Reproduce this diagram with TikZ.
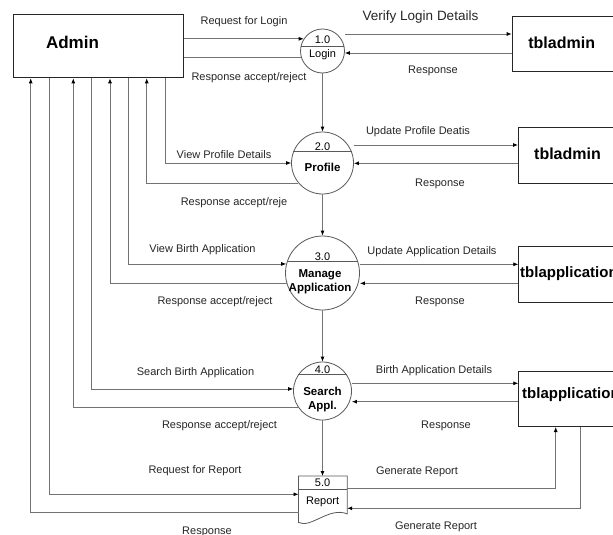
\documentclass[tikz,border=0pt]{standalone}
\usepackage{fontspec}
\setmainfont{Liberation Sans}
\usetikzlibrary{arrows.meta,calc}

\begin{document}
\begin{tikzpicture}[x=1pt,y=-1pt,
  flow/.style={draw=black!55, line width=0.8pt},
  arr/.style={-{Latex[length=5pt,width=4pt,color=black]}},
  proc/.style={circle, draw=black!65, line width=0.8pt, inner sep=0pt},
  store/.style={rectangle, draw=black!85, line width=1pt, inner sep=0pt, anchor=north west},
  lbl/.style={font=\fontsize{11}{13}\selectfont, text=black!85, inner sep=0pt},
  big/.style={font=\fontsize{13.5}{15}\selectfont, text=black!85, inner sep=0pt},
  ptxt/.style={font=\fontsize{11}{13}\selectfont, inner sep=0pt},
  pbold/.style={font=\fontsize{11.5}{13}\selectfont\bfseries, inner sep=0pt},
  ent/.style={font=\fontsize{16}{18}\selectfont\bfseries, inner sep=0pt},
]
\useasboundingbox (0,0) rectangle (613,535);
\clip (0,0) rectangle (613,535);
\fill[white] (0,0) rectangle (613,535);

% external entity and data stores (stores are open on the right)
\node[store, minimum width=170pt, minimum height=63.3pt] (admin) at (12.7,14) {};
\node[ent, font=\fontsize{17}{19}\selectfont\bfseries] (admintxt) at (72.5,42) {Admin};

\node[store, minimum width=140pt, minimum height=55.3pt] (tbl1) at (511.7,15.7) {};
\node[ent] (tbl1txt) at (561.7,43) {tbladmin};
\node[store, minimum width=140pt, minimum height=56pt] (tbl2) at (518,126.7) {};
\node[ent] (tbl2txt) at (567.5,154) {tbladmin};
\node[store, minimum width=140pt, minimum height=55.7pt] (tbl3) at (518.3,246) {};
\node[ent, font=\fontsize{15}{17}\selectfont\bfseries, anchor=west] (tbl3txt) at (520,273.3) {tblapplication};
\node[store, minimum width=140pt, minimum height=55.3pt] (tbl4) at (518.3,370.7) {};
\node[ent, font=\fontsize{15}{17}\selectfont\bfseries, anchor=west] (tbl4txt) at (522,395) {tblapplication};

% processes
\node[proc, minimum size=44pt] (login) at (322.5,51) {};
\draw[black!65, line width=0.8pt] (login.169) -- (login.11);
\node[ptxt] (n1) at (322.5,40) {1.0};
\node[ptxt] (t1) at (322.5,55) {Login};

\node[proc, minimum size=62pt] (profile) at (322.5,163) {};
\draw[black!65, line width=0.8pt] (profile.159) -- (profile.21);
\node[ptxt] (n2) at (322.5,146.5) {2.0};
\node[pbold] (t2) at (322.5,167) {Profile};

\node[proc, minimum size=74pt] (manage) at (322.5,273) {};
\draw[black!65, line width=0.8pt] (manage.162) -- (manage.18);
\node[ptxt] (n3) at (322.5,257) {3.0};
\node[pbold, align=center, font=\fontsize{11.5}{14}\selectfont\bfseries] (t3) at (320,282) {Manage\\Application};

\node[proc, minimum size=58pt] (search) at (322.5,391) {};
\draw[black!65, line width=0.8pt] (search.146) -- (search.34);
\node[ptxt] (n4) at (322.5,369.5) {4.0};
\node[pbold, align=center, font=\fontsize{11.5}{14}\selectfont\bfseries] (t4) at (322.5,399.5) {Search\\Appl.};

\node[minimum width=48.3pt, minimum height=46pt, inner sep=0pt, anchor=north west] (report) at (298.5,476) {};
\draw[black!65, line width=0.8pt] (report.north west) -- (report.north east)
  -- ([yshift=8.5pt]report.south east) .. controls +(-18,-7.5) and +(12,6.5) .. (report.south west) -- cycle;
\draw[black!65, line width=0.8pt] ([yshift=-13.3pt]report.north west) -- ([yshift=-13.3pt]report.north east);
\node[ptxt] (n5) at (322.6,483) {5.0};
\node[ptxt] (t5) at (322.6,502) {Report};

% drop points along the bottom of Admin
\coordinate (a1) at ($(admin.south west)+(18,0)$);
\coordinate (a2) at ($(admin.south west)+(36.3,0)$);
\coordinate (a3) at ($(admin.south west)+(60.6,0)$);
\coordinate (a4) at ($(admin.south west)+(79,0)$);
\coordinate (a5) at ($(admin.south west)+(97.3,0)$);
\coordinate (a6) at ($(admin.south west)+(115.6,0)$);
\coordinate (a7) at ($(admin.south west)+(134,0)$);
\coordinate (a8) at ($(admin.south west)+(152.3,0)$);

% ports on the data stores
\coordinate (s1a) at ([yshift=-18.3pt]tbl1.north west);
\coordinate (s1b) at ([yshift=-37.3pt]tbl1.north west);
\coordinate (s2a) at ([yshift=-18.3pt]tbl2.north west);
\coordinate (s2b) at ([yshift=-36.6pt]tbl2.north west);
\coordinate (s3a) at ([yshift=-18.3pt]tbl3.north west);
\coordinate (s3b) at ([yshift=-37.3pt]tbl3.north west);
\coordinate (s4a) at ([yshift=-12.6pt]tbl4.north west);
\coordinate (s4b) at ([yshift=-31pt]tbl4.north west);
\coordinate (s4in) at ([xshift=37.4pt]tbl4.south west);
\coordinate (s4out) at ([xshift=61.7pt]tbl4.south west);

% ports on the report
\coordinate (r1) at ([yshift=-18.3pt]report.north west);
\coordinate (r2) at ([yshift=-36.3pt]report.north west);
\coordinate (r3) at ([yshift=-12.3pt]report.north east);
\coordinate (r4) at ([yshift=-32.3pt]report.north east);

% 1.0 Login
\draw[flow,arr] (admin.east |- login.147) -- (login.147);
\draw[flow] (login.197) -- (admin.east |- login.197);
\draw[flow,arr] (login.east |- s1a) -- (s1a);
\draw[flow,arr] (s1b) -- (login.east |- s1b);
\draw[flow,arr] (login.south) -- (profile.north);

% 2.0 Profile
\draw[flow,arr] (a8) |- (profile.west);
\draw[flow,arr] (profile.220) -| (a7);
\draw[flow,arr] (profile.east |- s2a) -- (s2a);
\draw[flow,arr] (s2b) -- (profile.east |- s2b);
\draw[flow,arr] (profile.south) -- (manage.north);

% 3.0 Manage Application
\draw[flow,arr] (a6) |- (manage.166);
\draw[flow,arr] (manage.196) -| (a5);
\draw[flow,arr] (manage.east |- s3a) -- (s3a);
\draw[flow,arr] (s3b) -- (manage.east |- s3b);
\draw[flow,arr] (manage.south) -- (search.north);

% 4.0 Search Appl.
\draw[flow,arr] (a4) |- (search.176);
\draw[flow,arr] (search.215) -| (a3);
\draw[flow,arr] (search.east |- s4a) -- (s4a);
\draw[flow,arr] (s4b) -- (search.east |- s4b);
\draw[flow,arr] (search.south) -- (search.south |- report.north);

% 5.0 Report
\draw[flow,arr] (a2) |- (r1);
\draw[flow,arr] (r2) -| (a1);
\draw[flow,arr] (r3) -| (s4in);
\draw[flow,arr] (s4out) |- (r4);

% flow labels
\node[lbl] (l1) at (244,22) {Request for Login};
\node[lbl] (l2) at (249,78) {Response accept/reject};
\node[big] (l3) at (420.5,17) {Verify Login Details};
\node[lbl] (l4) at (433,71) {Response};
\node[lbl] (l5) at (418,132) {Update Profile Deatis};
\node[lbl] (l6) at (440,184) {Response};
\node[lbl] (l7) at (224,155) {View Profile Details};
\node[lbl] (l8) at (234,203) {Response accept/reje};
\node[lbl] (l9) at (202.5,250) {View Birth Application};
\node[lbl] (l10) at (215,302) {Response accept/reject};
\node[lbl] (l11) at (432,252) {Update Application Details};
\node[lbl] (l12) at (440,302) {Response};
\node[lbl] (l13) at (195.5,373) {Search Birth Application};
\node[lbl] (l14) at (219.5,426) {Response accept/reject};
\node[lbl] (l15) at (434,371) {Birth Application Details};
\node[lbl] (l16) at (446,426) {Response};
\node[lbl] (l17) at (195,471) {Request for Report};
\node[lbl] (l18) at (207,532) {Response};
\node[lbl] (l19) at (417,472) {Generate Report};
\node[lbl] (l20) at (436,527) {Generate Report};
\end{tikzpicture}
\end{document}
